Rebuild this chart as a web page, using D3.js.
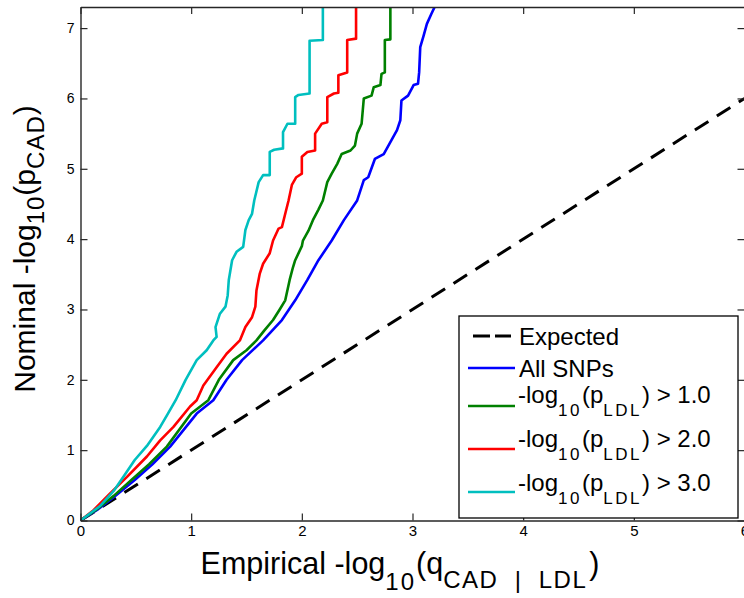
<!DOCTYPE html>
<html>
<head>
<meta charset="utf-8">
<script src="https://cdn.jsdelivr.net/npm/d3@7"></script>
<style>
  html, body { margin: 0; padding: 0; background: #fff; }
  svg { display: block; }
  text { font-family: "Liberation Sans", Arial, Helvetica, sans-serif; white-space: pre; }
  .tick text { font-family: "Liberation Sans Narrow", "Liberation Sans", Arial, sans-serif; }
</style>
</head>
<body>
<svg id="chart" width="744" height="598"></svg>
<script>
// ---------------- data ----------------
const xTicks = [0, 1, 2, 3, 4, 5, 6];
const yTicks = [0, 1, 2, 3, 4, 5, 6, 7];
const xDomain = [0, 6];
const yDomain = [0, 7.3];

const expectedLine = [[0, 0], [6, 6]];

const allSnps = [[0,0],[0.15,0.15],[0.3,0.33],[0.49,0.575],[0.65,0.8],[0.81,1.05],[1.05,1.52],[1.2,1.71],
  [1.32,2.0],[1.46,2.28],[1.65,2.56],[1.82,2.85],[1.94,3.13],[2.05,3.42],[2.15,3.70],[2.27,3.98],[2.38,4.27],
  [2.50,4.55],[2.56,4.84],[2.60,4.88],[2.66,5.14],[2.74,5.21],[2.80,5.38],[2.86,5.55],[2.89,5.69],[2.90,5.97],
  [2.96,6.04],[3.01,6.19],[3.05,6.21],[3.06,6.37],[3.07,6.73],[3.10,6.89],[3.13,7.06],[3.17,7.20],[3.20,7.30],[3.22,7.5]];

const ldl1 = [[0,0],[0.14,0.15],[0.3,0.35],[0.46,0.575],[0.62,0.8],[0.78,1.05],[1.0,1.52],[1.155,1.71],
  [1.25,2.0],[1.38,2.28],[1.5,2.42],[1.59,2.56],[1.66,2.7],[1.74,2.85],[1.8,3.0],[1.85,3.13],[1.89,3.42],
  [1.92,3.6],[1.94,3.70],[2.0,3.9],[2.01,3.98],[2.06,4.12],[2.10,4.27],[2.15,4.42],[2.19,4.55],[2.23,4.81],
  [2.27,4.93],[2.32,5.07],[2.36,5.21],[2.44,5.26],[2.48,5.33],[2.50,5.50],[2.54,5.64],[2.56,6.00],[2.63,6.04],
  [2.65,6.16],[2.71,6.19],[2.72,6.35],[2.75,6.37],[2.75,6.83],[2.80,6.84],[2.80,7.5]];

const ldl2 = [[0,0],[0.12,0.15],[0.27,0.39],[0.42,0.62],[0.6,0.91],[0.72,1.14],[0.84,1.33],[0.99,1.62],
  [1.05,1.71],[1.11,1.92],[1.23,2.18],[1.32,2.37],[1.44,2.56],[1.49,2.75],[1.55,2.89],[1.58,3.04],[1.59,3.27],
  [1.62,3.51],[1.65,3.65],[1.71,3.80],[1.74,3.98],[1.79,4.15],[1.82,4.17],[1.85,4.36],[1.88,4.55],[1.91,4.77],
  [1.95,4.88],[2.0,4.93],[2.0,5.17],[2.05,5.24],[2.12,5.26],[2.12,5.50],[2.18,5.64],[2.23,5.66],[2.23,6.02],
  [2.29,6.07],[2.33,6.08],[2.33,6.33],[2.41,6.37],[2.41,6.83],[2.49,6.85],[2.49,7.5]];

const ldl3 = [[0,0],[0.18,0.21],[0.3,0.42],[0.4,0.65],[0.49,0.86],[0.6,1.06],[0.72,1.33],[0.79,1.52],
  [0.86,1.71],[0.95,2.0],[1.05,2.28],[1.14,2.42],[1.2,2.56],[1.23,2.61],[1.22,2.75],[1.26,2.94],[1.31,3.04],
  [1.33,3.2],[1.34,3.42],[1.37,3.70],[1.41,3.82],[1.47,3.89],[1.49,4.13],[1.52,4.27],[1.55,4.36],[1.57,4.55],
  [1.61,4.81],[1.65,4.91],[1.71,4.91],[1.71,5.24],[1.75,5.27],[1.83,5.29],[1.83,5.52],[1.87,5.64],[1.94,5.64],
  [1.94,6.02],[1.97,6.05],[2.07,6.07],[2.07,6.82],[2.19,6.83],[2.19,7.5]];

const seriesNames = ["All SNPs", "ldl1", "ldl2", "ldl3"];
const seriesData = [allSnps, ldl1, ldl2, ldl3];
const seriesColors = ["#0000ff", "#008000", "#ff0000", "#00bfbf"];
const legendThresholds = ["1.0", "2.0", "3.0"];

// ---------------- layout ----------------
const svg = d3.select("#chart");
const mLeft = 80.5, mRight = 744.5, mTop = 7, mBottom = 520.5;
const x = d3.scaleLinear().domain(xDomain).range([mLeft, mRight]);
const y = d3.scaleLinear().domain(yDomain).range([mBottom, mTop]);

svg.append("defs").append("clipPath").attr("id", "plotclip")
  .append("rect").attr("x", mLeft).attr("y", mTop).attr("width", mRight - mLeft).attr("height", mBottom - mTop);

const plot = svg.append("g").attr("clip-path", "url(#plotclip)");
const line = d3.line().x(d => x(d[0])).y(d => y(d[1]));

// expected
plot.append("path").datum(expectedLine).attr("d", line)
  .attr("fill", "none").attr("stroke", "#000").attr("stroke-width", 3)
  .attr("stroke-dasharray", "16,10");

seriesData.forEach((s, i) => {
  plot.append("path").datum(s).attr("d", line)
    .attr("fill", "none").attr("stroke", seriesColors[i]).attr("stroke-width", 2.6)
    .attr("stroke-linejoin", "round");
});

// axes
const axisColor = "#262626";
function styleAxis(g) {
  g.select(".domain").attr("stroke", axisColor).attr("stroke-width", 1.4).attr("fill", "none");
  g.selectAll(".tick line").attr("stroke", axisColor).attr("stroke-width", 1.2);
  g.selectAll(".tick text").attr("fill", "#000").attr("font-size", 14);
}
svg.append("g").attr("transform", `translate(0,${mBottom})`)
  .call(d3.axisBottom(x).tickValues(xTicks).tickSizeInner(-7).tickSizeOuter(0).tickPadding(5).tickFormat(d3.format("d")))
  .call(styleAxis).call(g => g.selectAll(".tick text").attr("font-size", 15));
svg.append("g").attr("transform", `translate(0,${mTop})`)
  .call(d3.axisTop(x).tickValues(xTicks).tickSizeInner(-7).tickSizeOuter(0).tickFormat(""))
  .call(styleAxis);
svg.append("g").attr("transform", `translate(${mLeft},0)`)
  .call(d3.axisLeft(y).tickValues(yTicks).tickSizeInner(-7).tickSizeOuter(0).tickPadding(6).tickFormat(d3.format("d")))
  .call(styleAxis);
svg.append("g").attr("transform", `translate(${mRight},0)`)
  .call(d3.axisRight(y).tickValues(yTicks).tickSizeInner(-7).tickSizeOuter(0).tickFormat(""))
  .call(styleAxis);

// axis labels
const xl = svg.append("text").attr("x", 400).attr("y", 574).attr("text-anchor", "middle").attr("font-size", 30.5);
xl.append("tspan").text("Empirical -log");
xl.append("tspan").attr("font-size", 24).attr("letter-spacing", 2).attr("dy", 16).text("10");
xl.append("tspan").attr("dy", -16).text("(q");
xl.append("tspan").attr("font-size", 24).attr("letter-spacing", 1.5).attr("dy", 14).text("CAD  |  LDL");
xl.append("tspan").attr("dy", -14).attr("dx", 2).text(")");

const yl = svg.append("text").attr("transform", "translate(35,249) rotate(-90)")
  .attr("text-anchor", "middle").attr("font-size", 30);
yl.append("tspan").text("Nominal -log");
yl.append("tspan").attr("font-size", 24).attr("letter-spacing", 1).attr("dy", 9).text("10");
yl.append("tspan").attr("dy", -9).text("(p");
yl.append("tspan").attr("font-size", 24).attr("letter-spacing", 1).attr("dy", 9).text("CAD");
yl.append("tspan").attr("dy", -9).text(")");

// legend
const lg = svg.append("g");
lg.append("rect").attr("x", 459).attr("y", 316).attr("width", 279).attr("height", 202)
  .attr("fill", "#fff").attr("stroke", "#000").attr("stroke-width", 1.3);
lg.append("line").attr("x1", 473).attr("x2", 511).attr("y1", 336).attr("y2", 336)
  .attr("stroke", "#000").attr("stroke-width", 3).attr("stroke-dasharray", "17,5");
lg.append("text").attr("x", 519).attr("y", 345).attr("font-size", 24).text("Expected");

const lineYs = [368, 406, 449, 492];
lg.selectAll("line.ser").data(seriesColors).join("line").attr("class", "ser")
  .attr("x1", 468).attr("x2", 515).attr("y1", (d, i) => lineYs[i]).attr("y2", (d, i) => lineYs[i])
  .attr("stroke", d => d).attr("stroke-width", 2.6);
lg.append("text").attr("x", 519).attr("y", 377).attr("font-size", 24).text(seriesNames[0]);
const baseYs = [403, 447, 491];
legendThresholds.forEach((t, i) => {
  const tx = lg.append("text").attr("x", 518).attr("y", baseYs[i]).attr("font-size", 24);
  tx.append("tspan").text("-log");
  tx.append("tspan").attr("font-size", 17).attr("letter-spacing", 2.5).attr("dy", 13).text("10");
  tx.append("tspan").attr("dy", -13).text("(p");
  tx.append("tspan").attr("font-size", 17).attr("letter-spacing", 2.5).attr("dy", 13).text("LDL");
  tx.append("tspan").attr("dy", -13).text(") > " + t);
});
</script>
</body>
</html>
